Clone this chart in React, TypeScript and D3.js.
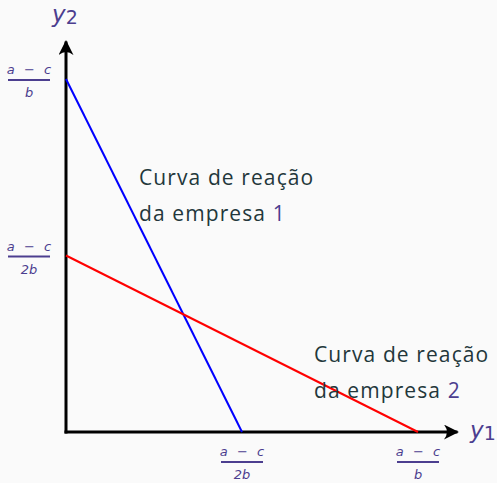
import { useEffect, useRef } from "react";
import * as d3 from "d3";

// values in units of (a - c)/b
const firm1 = [{ y1: 0, y2: 1 }, { y1: 0.5, y2: 0 }];
const firm2 = [{ y1: 0, y2: 0.5 }, { y1: 1, y2: 0 }];
const tickValues = [0.5, 1];
const tickNums = ["a − c", "a − c"];
const tickDens = ["2b", "b"];
const label1 = ["Curva de reação", "da empresa ", "1"];
const label2 = ["Curva de reação", "da empresa ", "2"];

const textColor = "#23373b";
const mathColor = "#4c3e8f";
const textFont = "'Open Sans', 'Noto Sans', sans-serif";
const mathFont = "'DejaVu Sans', sans-serif";

export default function App() {
  const ref = useRef<SVGSVGElement>(null);

  useEffect(() => {
    const width = 497;
    const height = 483;
    const svg = d3.select(ref.current);
    svg.selectAll("*").remove();

    svg.append("rect").attr("width", width).attr("height", height).attr("fill", "#fafafa");

    const x = d3.scaleLinear().domain([0, 1]).range([66, 418]);
    const y = d3.scaleLinear().domain([0, 1]).range([432, 79]);

    const defs = svg.append("defs");
    defs.append("marker")
      .attr("id", "arr")
      .attr("viewBox", "0 0 10 10")
      .attr("refX", 9)
      .attr("refY", 5)
      .attr("markerWidth", 5)
      .attr("markerHeight", 5)
      .attr("markerUnits", "strokeWidth")
      .attr("orient", "auto")
      .append("path")
      .attr("d", "M0,0 Q4,5 0,10 L10,5 Z")
      .attr("fill", "#000");

    // axes
    svg.append("line")
      .attr("x1", x(0)).attr("y1", y(0) + 1.5)
      .attr("x2", x(0)).attr("y2", y(1.106))
      .attr("stroke", "#000").attr("stroke-width", 3)
      .attr("marker-end", "url(#arr)");
    svg.append("line")
      .attr("x1", x(0) - 1.5).attr("y1", y(0))
      .attr("x2", x(1.112)).attr("y2", y(0))
      .attr("stroke", "#000").attr("stroke-width", 3)
      .attr("marker-end", "url(#arr)");

    const line = d3.line<{ y1: number; y2: number }>()
      .x(d => x(d.y1))
      .y(d => y(d.y2));

    svg.append("path").datum(firm1)
      .attr("fill", "none").attr("stroke", "#0000ff").attr("stroke-width", 2)
      .attr("d", line);
    svg.append("path").datum(firm2)
      .attr("fill", "none").attr("stroke", "#ff0000").attr("stroke-width", 2)
      .attr("d", line);

    // fractions
    const frac = (cx: number, cy: number, num: string, den: string) => {
      const g = svg.append("g").attr("transform", `translate(${cx},${cy})`);
      g.append("text").attr("y", -6).attr("text-anchor", "middle")
        .attr("font-family", mathFont).attr("font-style", "italic")
        .attr("word-spacing", 5)
        .attr("font-size", 13).attr("fill", mathColor).text(num);
      g.append("line").attr("x1", -21).attr("x2", 21)
        .attr("stroke", mathColor).attr("stroke-width", 2);
      g.append("text").attr("y", 17).attr("text-anchor", "middle")
        .attr("font-family", mathFont).attr("font-style", "italic")
        .attr("font-size", 13).attr("fill", mathColor).text(den);
    };
    tickValues.forEach((v, i) => {
      frac(x(v), 462, tickNums[i], tickDens[i]);
      frac(29, y(v) + 1, tickNums[i], tickDens[i]);
    });

    // axis names
    const axisName = (px: number, py: number, sub: string) => {
      const t = svg.append("text").attr("x", px).attr("y", py)
        .attr("font-family", mathFont).attr("fill", mathColor).attr("font-size", 23);
      t.append("tspan").attr("font-style", "italic").text("y");
      t.append("tspan").attr("font-size", 19).attr("dy", 2).text(sub);
    };
    axisName(52, 22, "2");
    axisName(470, 438, "1");

    // annotations
    const note = (px: number, py: number, lines: string[]) => {
      const g = svg.append("g").attr("font-family", textFont).attr("font-size", 21)
        .attr("letter-spacing", 1.1).attr("fill", textColor);
      g.append("text").attr("x", px).attr("y", py).text(lines[0]);
      const t = g.append("text").attr("x", px).attr("y", py + 36);
      t.append("tspan").text(lines[1]);
      t.append("tspan").attr("fill", mathColor).text(lines[2]);
    };
    note(139, 185, label1);
    note(314, 362, label2);
  }, []);

  return (
    <svg ref={ref} width={497} height={483} style={{ position: "absolute", left: 0, top: 0 }} />
  );
}
